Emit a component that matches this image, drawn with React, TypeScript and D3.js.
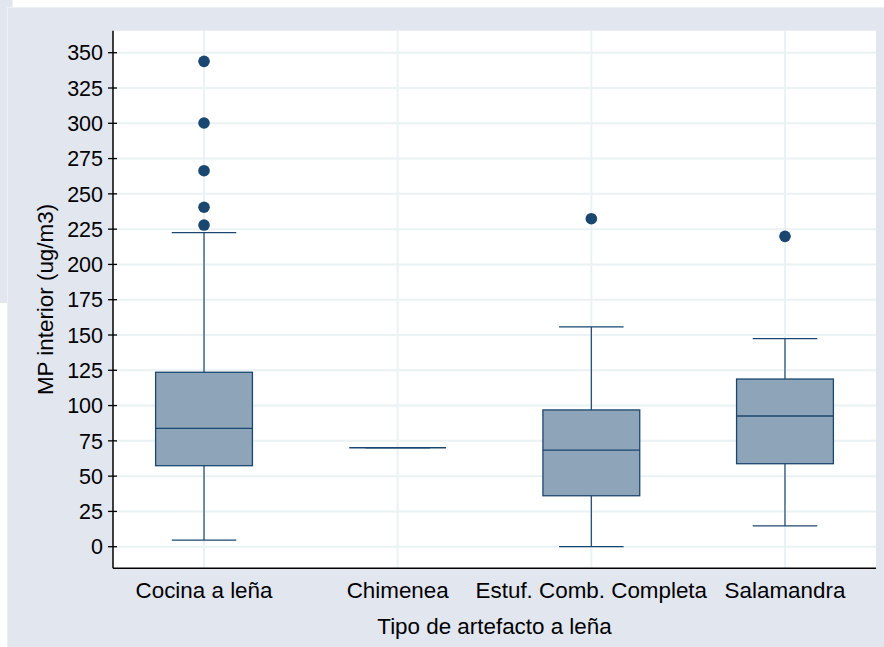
import React from 'react';
import * as d3 from 'd3';

const categories = ['Cocina a leña', 'Chimenea', 'Estuf. Comb. Completa', 'Salamandra'];
const whiskerLow = [4.7, 70.1, 0, 14.7];
const q1 = [57.4, 70.1, 36.1, 58.8];
const median = [83.9, 70.1, 68.5, 92.6];
const q3 = [123.6, 70.1, 96.9, 118.8];
const whiskerHigh = [222.5, 70.1, 155.7, 147.4];
const outliers = [
  [343.9, 300.2, 266.4, 240.5, 227.9],
  [],
  [232.4],
  [219.9],
];
const yTicks = [0, 25, 50, 75, 100, 125, 150, 175, 200, 225, 250, 275, 300, 325, 350];

const W = 884;
const H = 647;
const plot = { left: 113, right: 876, top: 30.7, bottom: 568.3 };
const panelColor = '#e1e6ef';
const navy = '#1a476f';
const gridColor = '#eaf2f3';
const font = '"Liberation Sans", Arial, sans-serif';

const App: React.FC = () => {
  const x = d3.scalePoint<string>().domain(categories).range([plot.left, plot.right]).padding(0.47);
  const y = d3.scaleLinear().domain([-15.3, 365.6]).range([plot.bottom, plot.top]);
  const boxW = x.step() * 0.5;
  const capW = boxW * 2 / 3;

  return (
    <div style={{ position: 'absolute', left: 0, top: 0 }}>
      <svg width={W} height={H} viewBox={`0 0 ${W} ${H}`} style={{ display: 'block' }}>
        <rect width={W} height={H} fill="#ffffff" />
        {/* window behind */}
        <rect x={0} y={0} width={13} height={303} fill={panelColor} />
        <line x1={12.5} y1={0} x2={12.5} y2={7} stroke="#eef1f6" />
        {/* graph region */}
        <rect x={7} y={7} width={W - 7} height={H - 7} fill={panelColor} />
        <line x1={7.5} y1={7} x2={7.5} y2={H} stroke="#edf0f5" />
        <line x1={7} y1={7.5} x2={W} y2={7.5} stroke="#edf0f5" />
        {/* plot region */}
        <rect x={plot.left} y={plot.top} width={plot.right - plot.left} height={plot.bottom - plot.top} fill="#ffffff" />

        {/* grid */}
        {yTicks.map(t => (
          <line key={'g' + t} x1={plot.left} x2={plot.right} y1={y(t)} y2={y(t)} stroke={gridColor} strokeWidth={2} />
        ))}
        {categories.map(c => (
          <line key={'v' + c} x1={x(c)} x2={x(c)} y1={plot.top} y2={plot.bottom} stroke={gridColor} strokeWidth={2} />
        ))}

        {/* boxes */}
        {categories.map((c, i) => {
          const cx = x(c) as number;
          return (
            <g key={c}>
              <line x1={cx} x2={cx} y1={y(q3[i])} y2={y(whiskerHigh[i])} stroke={navy} strokeWidth={1.2} />
              <line x1={cx} x2={cx} y1={y(q1[i])} y2={y(whiskerLow[i])} stroke={navy} strokeWidth={1.2} />
              <line x1={cx - capW / 2} x2={cx + capW / 2} y1={y(whiskerHigh[i])} y2={y(whiskerHigh[i])} stroke={navy} strokeWidth={1.2} />
              <line x1={cx - capW / 2} x2={cx + capW / 2} y1={y(whiskerLow[i])} y2={y(whiskerLow[i])} stroke={navy} strokeWidth={1.2} />
              <rect x={cx - boxW / 2} y={y(q3[i])} width={boxW} height={Math.max(0, y(q1[i]) - y(q3[i]))}
                fill="#8ea5b9" stroke={navy} strokeWidth={1.3} />
              <line x1={cx - boxW / 2} x2={cx + boxW / 2} y1={y(median[i])} y2={y(median[i])} stroke={navy} strokeWidth={1.3} />
              {outliers[i].map((v, j) => (
                <circle key={j} cx={cx} cy={y(v)} r={5.8} fill={navy} />
              ))}
            </g>
          );
        })}

        {/* axes */}
        <line x1={plot.left} x2={plot.left} y1={plot.top} y2={plot.bottom} stroke="#000" strokeWidth={1.5} />
        <line x1={plot.left} x2={plot.right} y1={plot.bottom} y2={plot.bottom} stroke="#000" strokeWidth={1.5} />
        {yTicks.map(t => (
          <g key={'t' + t}>
            <line x1={plot.left - 5} x2={plot.left + 4} y1={y(t)} y2={y(t)} stroke="#000" strokeWidth={1.3} />
            <text x={103} y={y(t)} dy="0.36em" textAnchor="end" fontFamily={font} fontSize={21.5} fill="#000">{t}</text>
          </g>
        ))}
        {categories.map(c => (
          <text key={'l' + c} x={x(c)} y={598} textAnchor="middle" fontFamily={font} fontSize={22.4} fill="#000">{c}</text>
        ))}
        <text x={(plot.left + plot.right) / 2} y={634} textAnchor="middle" fontFamily={font} fontSize={22.4} fill="#000">
          Tipo de artefacto a leña
        </text>
        <text transform={`translate(53,${(plot.top + plot.bottom) / 2}) rotate(-90)`} textAnchor="middle"
          fontFamily={font} fontSize={22.4} fill="#000">
          MP interior (ug/m3)
        </text>
      </svg>
    </div>
  );
};

export default App;
